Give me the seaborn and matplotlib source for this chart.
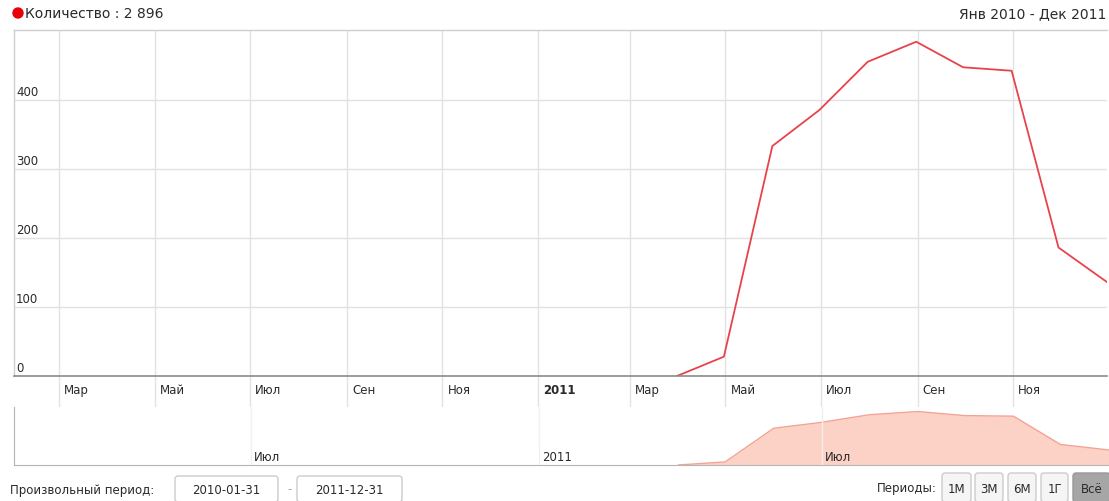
import pandas as pd
import numpy as np
import matplotlib
matplotlib.use("Agg")
import matplotlib.pyplot as plt
import matplotlib.dates as mdates
import matplotlib.transforms as mtrans
from matplotlib.patches import FancyBboxPatch, Circle
import seaborn as sns

# Data: monthly totals ("Количество"), points at month end
dates = ["2011-03-31", "2011-04-30", "2011-05-31", "2011-06-30", "2011-07-31",
         "2011-08-31", "2011-09-30", "2011-10-31", "2011-11-30", "2011-12-31"]
values = [0, 28, 333, 385, 455, 484, 447, 442, 186, 136]

# axis labels
tick_dates = ["2010-03-01", "2010-05-01", "2010-07-01", "2010-09-01", "2010-11-01",
              "2011-01-01", "2011-03-01", "2011-05-01", "2011-07-01", "2011-09-01",
              "2011-11-01"]
tick_labels = ["Мар", "Май", "Июл", "Сен", "Ноя", "2011", "Мар", "Май", "Июл", "Сен", "Ноя"]
scroll_dates = ["2010-07-01", "2011-01-01", "2011-07-01"]
scroll_labels = ["Июл", "2011", "Июл"]
y_ticks = [0, 100, 200, 300, 400]
period_buttons = ["1M", "3M", "6M", "1Г", "Всё"]

df = pd.DataFrame({"date": pd.to_datetime(dates), "value": values})

sns.set_style("white")
plt.rcParams["font.family"] = ["DejaVu Sans"]
plt.rcParams["font.size"] = 8.5

W, H = 1109, 502
fig = plt.figure(figsize=(W / 100, H / 100), dpi=100)
# pixel coordinates, y going down (like the screenshot)
pix = mtrans.Affine2D().scale(1 / W, -1 / H).translate(0, 1) + fig.transFigure

x0 = mdates.date2num(pd.Timestamp("2010-01-31"))
x1 = mdates.date2num(pd.Timestamp("2011-12-31"))
grid_c = "#e2e2e2"
text_c = "#2a2a2a"
fs = 8.5

# -------------------------------
# Main chart
# -------------------------------
ax = fig.add_axes([14 / W, 1 - 377 / H, (1107 - 14) / W, (377 - 31) / H])
sns.lineplot(data=df, x="date", y="value", ax=ax, color="#e8434a", linewidth=1.3)
ax.set_xlim(x0, x1)
ax.set_ylim(0, 501)
ax.set_xlabel("")
ax.set_ylabel("")

tick_nums = [mdates.date2num(pd.Timestamp(d)) for d in tick_dates]
for t in tick_nums:
    ax.axvline(t, color=grid_c, lw=1, zorder=0)
    ax.plot([t, t], [0, -33 / 346 * 501], color=grid_c, lw=1, clip_on=False, zorder=0)
for v in y_ticks[1:]:
    ax.axhline(v, color=grid_c, lw=1, zorder=0)
ax.set_xticks([])
ax.set_yticks([])

for side in ["top", "left", "right", "bottom"]:
    ax.spines[side].set_color("#cfcfcf")
    ax.spines[side].set_linewidth(1)
ax.spines["right"].set_visible(False)
ax.spines["bottom"].set_color("#8a8a8a")
ax.spines["bottom"].set_linewidth(1.2)

ylab_tr = mtrans.offset_copy(ax.get_yaxis_transform(), fig=fig, x=2, y=5, units="dots")
for v in y_ticks:
    ax.text(0, v, str(v), transform=ylab_tr, ha="left", va="baseline",
            color=text_c, fontsize=fs)

xlab_tr = mtrans.offset_copy(ax.get_xaxis_transform(), fig=fig, x=5, y=-14, units="dots")
for t, lab in zip(tick_nums, tick_labels):
    ax.text(t, 0, lab, transform=xlab_tr, ha="left", va="center", color=text_c,
            fontsize=fs, fontweight="bold" if lab == "2011" else "normal")

# -------------------------------
# Scroller
# -------------------------------
sc = fig.add_axes([14 / W, 1 - 466 / H, (1109 - 14) / W, (466 - 408) / H])
sc.fill_between(df["date"], df["value"], 0, color="#fcd2c6", lw=0)
sns.lineplot(data=df, x="date", y="value", ax=sc, color="#f2a393", linewidth=1)
sc.set_xlim(x0, x1)
sc.set_ylim(0, 525)
sc.set_xticks([])
sc.set_yticks([])
sc.set_xlabel("")
sc.set_ylabel("")
for side in ["top", "right"]:
    sc.spines[side].set_visible(False)
for side in ["left", "bottom"]:
    sc.spines[side].set_color("#b5b5b5")
sclab_tr = mtrans.offset_copy(sc.get_xaxis_transform(), fig=fig, x=3, y=8, units="dots")
for d, lab in zip(scroll_dates, scroll_labels):
    t = mdates.date2num(pd.Timestamp(d))
    sc.axvline(t, color="#f6eeeb", lw=1, zorder=3)
    sc.text(t, 0, lab, transform=sclab_tr, ha="left", va="center", color=text_c, fontsize=fs)

# -------------------------------
# Header
# -------------------------------
fig.add_artist(Circle((18, 14), 5, transform=pix, color="#e8000b"))
fig.text(25, 14, "Количество : 2 896", transform=pix, ha="left", va="center",
         color=text_c, fontsize=10)
fig.text(1106, 14, "Янв 2010 - Дек 2011", transform=pix, ha="right", va="center",
         color=text_c, fontsize=10)

# -------------------------------
# Bottom controls
# -------------------------------
fig.text(10, 491, "Произвольный период:", transform=pix, ha="left", va="center",
         color=text_c, fontsize=fs)


def box(xa, xb, ya, yb, label, fc="white", ec="#cccccc"):
    p = FancyBboxPatch((xa, ya), xb - xa, yb - ya, transform=pix,
                       boxstyle="round,pad=0,rounding_size=3", fc=fc, ec=ec, lw=1)
    fig.add_artist(p)
    fig.text((xa + xb) / 2, (ya + yb) / 2 + 1, label, transform=pix, ha="center",
             va="center", color=text_c, fontsize=fs)


box(175, 278, 477, 503, "2010-01-31")
fig.text(290, 490, "-", transform=pix, ha="center", va="center", color="#aaaaaa", fontsize=fs)
box(297, 402, 477, 503, "2011-12-31")

fig.text(937, 489, "Периоды:", transform=pix, ha="right", va="center",
         color=text_c, fontsize=fs)
btn_x = [(942, 971), (975, 1003), (1008, 1036), (1041, 1068), (1073, 1110)]
for (xa, xb), lab in zip(btn_x, period_buttons):
    if lab == "Всё":
        box(xa, xb, 474, 503, lab, fc="#a6a6a6", ec="#999999")
    else:
        box(xa, xb, 474, 503, lab, fc="#f5f5f5")

fig.savefig("out.png", dpi=100)
